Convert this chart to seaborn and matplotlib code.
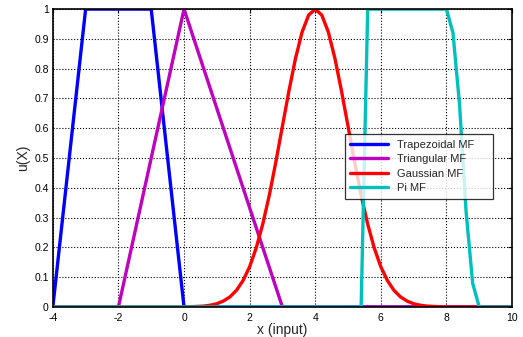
import numpy as np
import pandas as pd
import matplotlib
matplotlib.use("Agg")
import matplotlib.pyplot as plt
import seaborn as sns

# === data ===
trap_x = [-4, -3, -1, 0, 10]
trap_y = [0, 1, 1, 0, 0]

tri_x = [-4, -2, 0, 3, 10]
tri_y = [0, 0, 1, 0, 0]

gauss_x = [-4, 0.0, 0.2, 0.4, 0.6, 0.8, 1.0, 1.2, 1.4, 1.6, 1.8, 2.0, 2.2, 2.4,
           2.6, 2.8, 3.0, 3.2, 3.4, 3.6, 3.8, 4.0, 4.2, 4.4, 4.6, 4.8, 5.0,
           5.2, 5.4, 5.6, 5.8, 6.0, 6.2, 6.4, 6.6, 6.8, 7.0, 7.2, 7.4, 7.6,
           7.8, 8.0, 10]
gauss_y = [0, 0.0, 0.001, 0.002, 0.003, 0.006, 0.011, 0.02, 0.034, 0.056,
           0.089, 0.135, 0.198, 0.278, 0.375, 0.487, 0.607, 0.726, 0.835,
           0.923, 0.98, 1.0, 0.98, 0.923, 0.835, 0.726, 0.607, 0.487, 0.375,
           0.278, 0.198, 0.135, 0.089, 0.056, 0.034, 0.02, 0.011, 0.006,
           0.003, 0.002, 0.001, 0.0, 0]

pi_x = [-4, 5.4, 5.6, 8.0, 8.2, 8.4, 8.6, 8.8, 9.0, 10]
pi_y = [0, 0, 1, 1, 0.92, 0.68, 0.32, 0.08, 0, 0]

series = [
    ("Trapezoidal MF", trap_x, trap_y, "#0000ff"),
    ("Triangular MF", tri_x, tri_y, "#bf00bf"),
    ("Gaussian MF", gauss_x, gauss_y, "#ff0000"),
    ("Pi MF", pi_x, pi_y, "#00bfbf"),
]

sns.set_style("white")
plt.rcParams['font.family'] = ['Liberation Sans', 'DejaVu Sans']

fig = plt.figure(figsize=(5.23, 3.37), dpi=100)
ax = fig.add_axes([0.101, 0.089, 0.878, 0.884])

for name, xs, ys, col in series:
    df = pd.DataFrame({"x": xs, "y": ys})
    sns.lineplot(data=df, x="x", y="y", ax=ax, color=col, linewidth=2.4,
                 label=name, sort=False, estimator=None)

ax.set_xlim(-4, 10)
ax.set_ylim(0, 1)
ax.set_xticks([-4, -2, 0, 2, 4, 6, 8, 10])
ax.set_xticklabels(["-4", "-2", "0", "2", "4", "6", "8", "10"])
yt = [0, 0.1, 0.2, 0.3, 0.4, 0.5, 0.6, 0.7, 0.8, 0.9, 1]
ax.set_yticks(yt)
ax.set_yticklabels(["0", "0.1", "0.2", "0.3", "0.4", "0.5", "0.6", "0.7",
                    "0.8", "0.9", "1"])
ax.tick_params(direction="in", length=3, labelsize=7.5, colors="black",
               top=True, right=True, pad=2)
ax.tick_params(axis="x", pad=4)
ax.tick_params(axis="y", pad=3)
ax.grid(True, color="black", linestyle=":", linewidth=0.8)
for s in ax.spines.values():
    s.set_visible(True)
    s.set_color("black")
    s.set_linewidth(1.2)

ax.set_xlabel("x (input)", fontsize=10, labelpad=0)
ax.set_ylabel("u(X)", fontsize=10, labelpad=3)

leg = ax.legend(loc="upper left", bbox_to_anchor=(0.636, 0.362, 0.323, 0.218),
                mode="expand", fontsize=8, frameon=True, fancybox=False,
                edgecolor="black", handlelength=3.4, borderaxespad=0,
                labelspacing=0.4, borderpad=0.5)
leg.get_frame().set_linewidth(0.9)

plt.savefig("out.png", dpi=100)
